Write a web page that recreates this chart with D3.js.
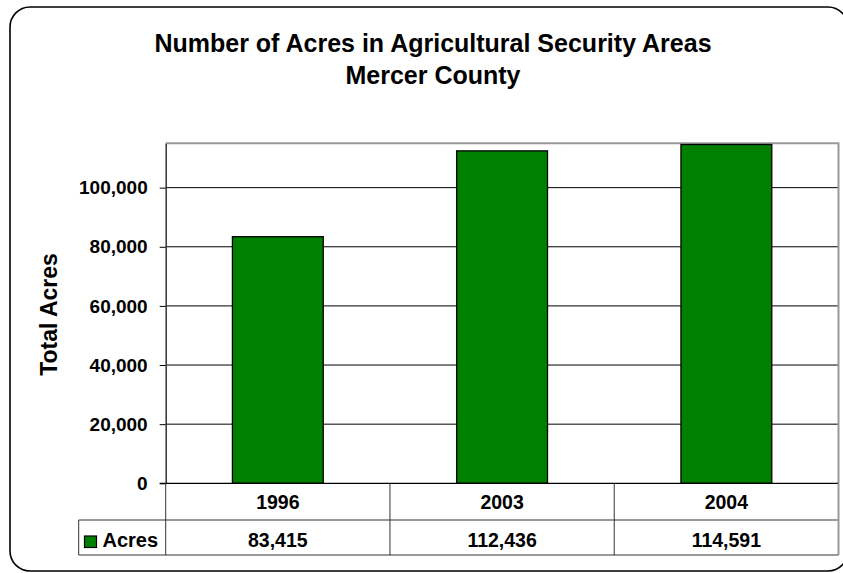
<!DOCTYPE html>
<html>
<head>
<meta charset="utf-8">
<script src="https://cdn.jsdelivr.net/npm/d3@7"></script>
<style>
  html, body { margin: 0; padding: 0; background: #fff; }
  svg { display: block; font-family: "Liberation Sans", Arial, sans-serif; font-weight: bold; }
</style>
</head>
<body>
<svg id="chart" width="843" height="573"></svg>
<script>
// ---- data ----
const titleLines = ["Number of Acres in Agricultural Security Areas", "Mercer County"];
const categories = ["1996", "2003", "2004"];
const seriesName = "Acres";
const acres = [83415, 112436, 114591];
const yTicks = [0, 20000, 40000, 60000, 80000, 100000];
const yMax = 115000;
const yTitle = "Total Acres";

// ---- layout ----
const plot = { left: 165.7, right: 838.5, top: 143.3, bottom: 483.3 };
const tableRow1 = 520, tableRow2 = 555, legendLeft = 78.7;
const green = "#008000";

const svg = d3.select("#chart");

// outer rounded frame
svg.append("rect")
  .attr("x", 10).attr("y", 7)
  .attr("width", 838).attr("height", 564)
  .attr("rx", 20).attr("ry", 20)
  .attr("fill", "#fff").attr("stroke", "#000").attr("stroke-width", 1.6);

// title
svg.append("g").selectAll("text").data(titleLines).join("text")
  .attr("x", 433)
  .attr("y", (d, i) => 52 + i * 32)
  .attr("text-anchor", "middle")
  .attr("font-size", 25)
  .attr("fill", "#000")
  .text(d => d);

// scales
const x = d3.scaleBand().domain(categories).range([plot.left, plot.right]).paddingInner(0.595).paddingOuter(0.2975);
const xCol = d3.scaleBand().domain(categories).range([plot.left, plot.right]).padding(0);
const y = d3.scaleLinear().domain([0, yMax]).range([plot.bottom, plot.top]);

// gridlines
svg.append("g").selectAll("line").data(yTicks.filter(t => t > 0)).join("line")
  .attr("x1", plot.left).attr("x2", plot.right)
  .attr("y1", d => y(d)).attr("y2", d => y(d))
  .attr("stroke", "#000").attr("stroke-width", 1);

// plot frame (top & right gray)
svg.append("path")
  .attr("d", `M${plot.left},${plot.top}H${plot.right}V${plot.bottom}`)
  .attr("fill", "none").attr("stroke", "#999").attr("stroke-width", 2);

// bars
svg.append("g").selectAll("rect").data(acres).join("rect")
  .attr("x", (d, i) => x(categories[i]))
  .attr("y", d => y(d))
  .attr("width", x.bandwidth())
  .attr("height", d => y(0) - y(d))
  .attr("fill", green).attr("stroke", "#000").attr("stroke-width", 1.3);

// y axis
const yAxis = d3.axisLeft(y).tickValues(yTicks).tickFormat(d3.format(","))
  .tickSizeInner(6).tickSizeOuter(0).tickPadding(12);
const gy = svg.append("g").attr("transform", `translate(${plot.left},0)`).call(yAxis);
gy.select(".domain").attr("stroke", "#333").attr("stroke-width", 1.5);
gy.selectAll(".tick line").attr("stroke", "#000");
gy.selectAll(".tick text").attr("font-size", 19).attr("font-family", "Liberation Sans, Arial, sans-serif")
  .attr("font-weight", "bold").attr("fill", "#000");

// y axis title
svg.append("text")
  .attr("transform", "translate(57,314.5) rotate(-90)")
  .attr("text-anchor", "middle")
  .attr("font-size", 23)
  .attr("fill", "#000")
  .text(yTitle);

// baseline
svg.append("line")
  .attr("x1", plot.left - 6).attr("x2", plot.right)
  .attr("y1", y(0)).attr("y2", y(0))
  .attr("stroke", "#000").attr("stroke-width", 1.3);

// data table
const tbl = svg.append("g").attr("fill", "none").attr("stroke", "#333").attr("stroke-width", 1);
tbl.append("line").attr("x1", legendLeft).attr("x2", plot.right).attr("y1", tableRow1).attr("y2", tableRow1);
tbl.append("line").attr("x1", legendLeft).attr("x2", plot.right).attr("y1", tableRow2).attr("y2", tableRow2);
tbl.append("line").attr("x1", legendLeft).attr("x2", legendLeft).attr("y1", tableRow1).attr("y2", tableRow2);
const colEdges = categories.map(c => xCol(c)).concat([plot.right]);
tbl.selectAll("line.col").data(colEdges).join("line").attr("class", "col")
  .attr("x1", d => d).attr("x2", d => d)
  .attr("y1", plot.bottom).attr("y2", tableRow2)
  .attr("stroke", (d, i) => i === colEdges.length - 1 ? "#999" : "#333")
  .attr("stroke-width", (d, i) => i === colEdges.length - 1 ? 2 : 1);

// category labels
svg.append("g").selectAll("text").data(categories).join("text")
  .attr("x", d => xCol(d) + xCol.bandwidth() / 2)
  .attr("y", 509)
  .attr("text-anchor", "middle").attr("font-size", 19.5).attr("fill", "#000")
  .text(d => d);

// value labels
const fmt = d3.format(",");
svg.append("g").selectAll("text").data(acres).join("text")
  .attr("x", (d, i) => xCol(categories[i]) + xCol.bandwidth() / 2)
  .attr("y", 546.5)
  .attr("text-anchor", "middle").attr("font-size", 19.5).attr("fill", "#000")
  .text(d => fmt(d));

// legend key
svg.append("rect")
  .attr("x", 84.5).attr("y", 536).attr("width", 12).attr("height", 11.5)
  .attr("fill", green).attr("stroke", "#000").attr("stroke-width", 1.2);
svg.append("text")
  .attr("x", 102.5).attr("y", 547)
  .attr("font-size", 20).attr("fill", "#000")
  .text(seriesName);
</script>
</body>
</html>
